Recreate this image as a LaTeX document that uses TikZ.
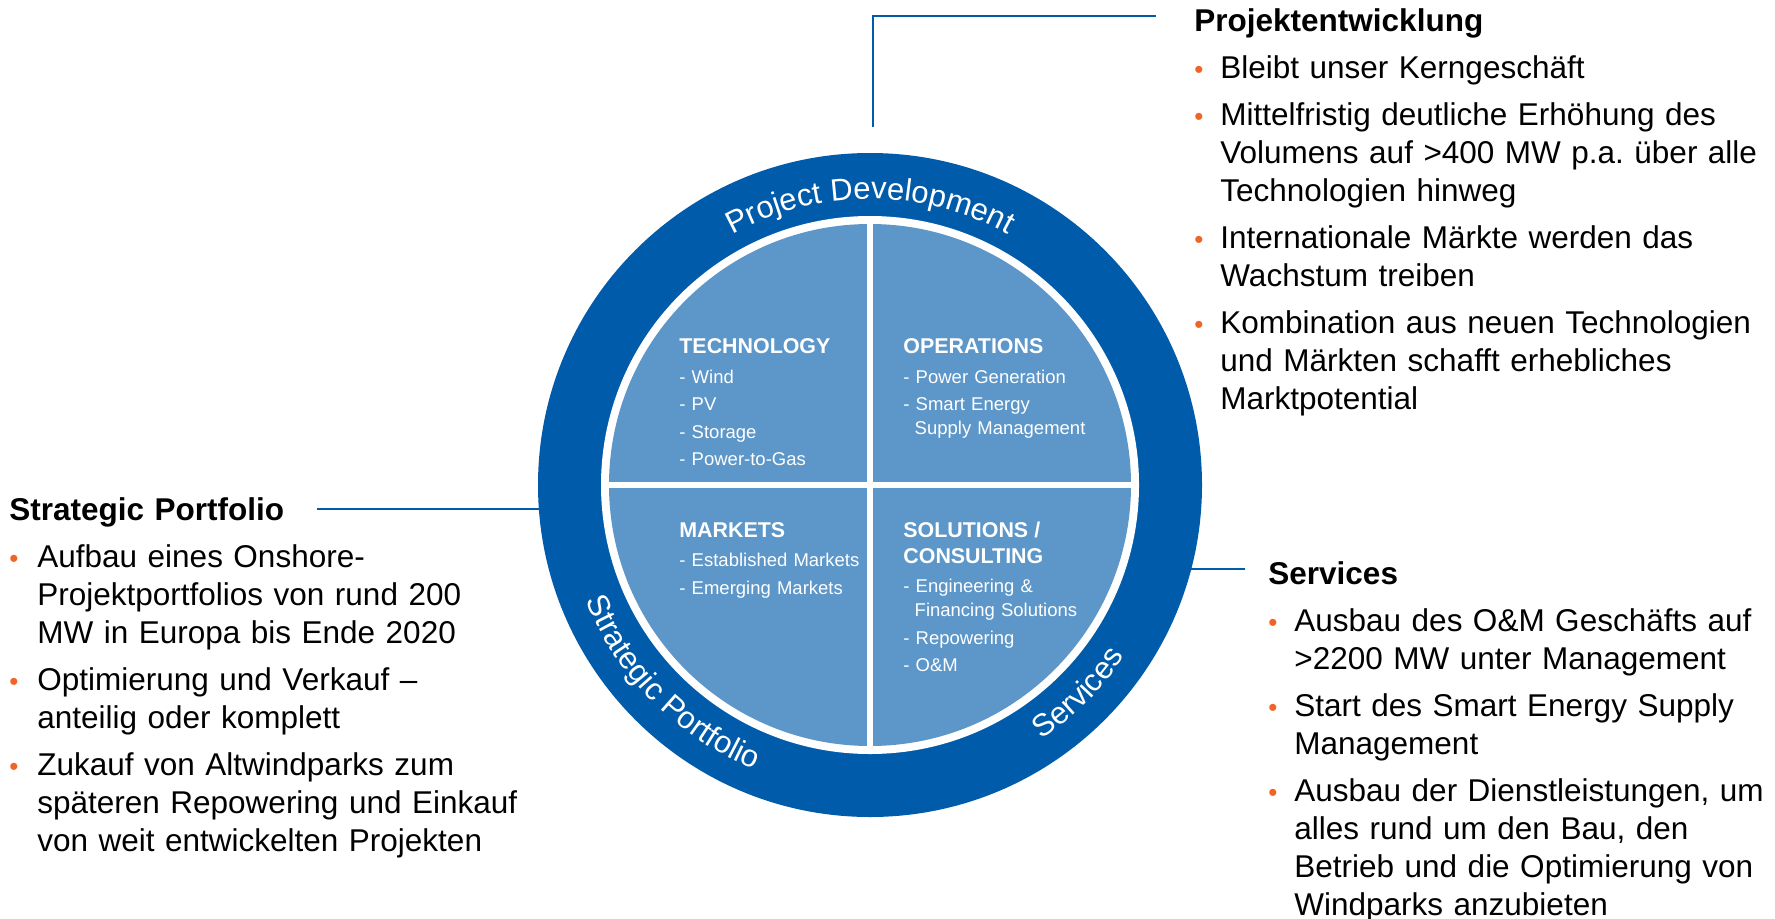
\documentclass[tikz,border=0pt]{standalone}
\usepackage{fontspec}
\setmainfont{Liberation Sans}
\usetikzlibrary{decorations.text}

\definecolor{ringblue}{RGB}{0,91,170}
\definecolor{quadblue}{RGB}{93,150,200}
\definecolor{dotorange}{RGB}{240,100,40}

\newlength\bulind
\setlength\bulind{13pt}
\newcommand\bul{{\fontsize{13}{13}\selectfont\textcolor{dotorange}{\textbullet}}}
\newcommand\bitem{\par\vspace{4.5pt}\hangindent=\bulind\hangafter=1\noindent\makebox[\bulind][l]{\bul}}
\newcommand\qhead[1]{{\fontsize{10.7}{13}\selectfont\bfseries\strut#1\par}\vspace{1pt}}
\newcommand\qitem{\par\vspace{1.8pt}\hangindent=5.65pt\hangafter=1\noindent-~}
\newcommand\ringfont{\fontsize{15.5}{18}\selectfont}

\begin{document}
\frenchspacing
\begin{tikzpicture}[x=0.5pt, y=0.5pt,
   link/.style={draw=ringblue, line width=1.4pt},
   blocktext/.style={anchor=north west, inner sep=0, text width=290pt, align=left,
      font=\fontsize{15.75}{19}\selectfont},
   quadtext/.style={anchor=north west, inner sep=0, text width=115pt, align=left,
      text=white, font=\fontsize{9.25}{12}\selectfont},
   ringlabel/.style={decorate, decoration={text along path, text align=center,
      text color=white, text={|\ringfont|#1}}}]
   \useasboundingbox (0,0) rectangle (1775,918);

   \coordinate (mid) at (870,433);
   \coordinate (pdfoot) at (873,791);
   \coordinate (pdend) at (1156,902);
   \coordinate (spend) at (317,409);
   \coordinate (svend) at (1245,349);

   \draw[link] (pdfoot) |- (pdend);
   \draw[link] (spend) -- (spend -| mid);
   \draw[link] (svend) -- (svend -| mid);

   \node[circle, fill=ringblue, minimum size=332pt, inner sep=0] (ring) at (mid) {};
   \fill[white] (mid) circle (269);
   \fill[quadblue] (mid) circle (261);
   \draw[white, line width=3.15pt] (870,167) -- (870,699);
   \draw[white, line width=3.15pt] (604,433) -- (1136,433);

   \path[ringlabel={Project Development}, shift={(mid)}] (150:286) arc[start angle=150, end angle=30, radius=286];
   \path[ringlabel={Strategic Portfolio}, shift={(mid)}] (165:307) arc[start angle=165, end angle=285, radius=307];
   \path[ringlabel={Services}, shift={(mid)}] (-75:307) arc[start angle=-75, end angle=-15, radius=307];

   \node[quadtext] (tech) at (679,583.2) {\qhead{TECHNOLOGY}\qitem Wind\qitem PV\qitem Storage\qitem Power-to-Gas\par};
   \node[quadtext] (ops) at (903,583.2) {\qhead{OPERATIONS}\qitem Power Generation\qitem Smart Energy\newline Supply Management\par};
   \node[quadtext] (markets) at (679,399.5) {\qhead{MARKETS}\qitem Established Markets\qitem Emerging Markets\par};
   \node[quadtext] (solutions) at (903,399.5) {\qhead{SOLUTIONS /\newline CONSULTING}\qitem Engineering \&\newline Financing Solutions\qitem Repowering\qitem O\&M\par};

   \node[blocktext] (pdblock) at (1194,913.1) {\strut\textbf{Projektentwicklung}
      \bitem Bleibt unser Kerngeschäft
      \bitem Mittelfristig deutliche Erhöhung des\newline Volumens auf >400 MW p.a. über alle\newline Technologien hinweg
      \bitem Internationale Märkte werden das\newline Wachstum treiben
      \bitem Kombination aus neuen Technologien\newline und Märkten schafft erhebliches\newline Marktpotential\par};

   \node[blocktext] (spblock) at (9,424.6) {\setlength\bulind{14pt}\strut\textbf{Strategic Portfolio}
      \bitem Aufbau eines Onshore-\newline Projektportfolios von rund 200\newline MW in Europa bis Ende 2020
      \bitem Optimierung und Verkauf –\newline anteilig oder komplett
      \bitem Zukauf von Altwindparks zum\newline späteren Repowering und Einkauf\newline von weit entwickelten Projekten\par};

   \node[blocktext] (svblock) at (1268,360.6) {\strut\textbf{Services}
      \bitem Ausbau des O\&M Geschäfts auf\newline >2200 MW unter Management
      \bitem Start des Smart Energy Supply\newline Management
      \bitem Ausbau der Dienstleistungen, um\newline alles rund um den Bau, den\newline Betrieb und die Optimierung von\newline Windparks anzubieten\par};
\end{tikzpicture}
\end{document}
